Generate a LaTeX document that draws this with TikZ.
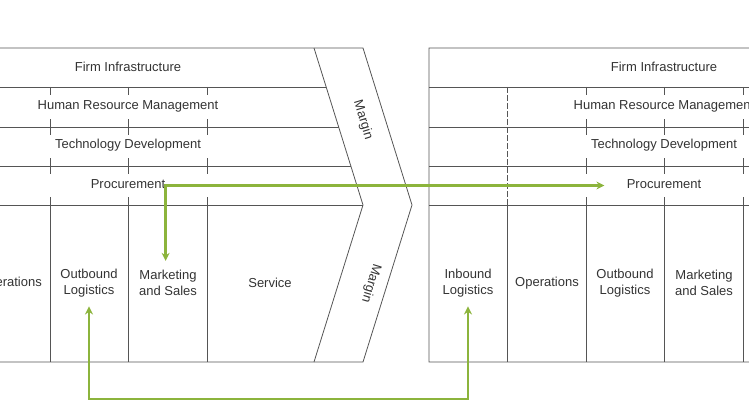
\documentclass[tikz,border=0pt]{standalone}
\usepackage{fontspec}
\setmainfont{Liberation Sans}
\usetikzlibrary{calc,arrows.meta}
\definecolor{vcgreen}{RGB}{140,180,60}
\definecolor{vcline}{RGB}{85,85,85}

\begin{document}
\begin{tikzpicture}[x=1pt, y=-1pt, line width=0.8pt,
  lbl/.style={font=\fontsize{13}{16}\selectfont, text=black!80, inner sep=0pt},
  act/.style={lbl, align=center, inner sep=9pt},
  link/.style={draw=vcgreen, line width=2.4pt,
    {Stealth[length=8pt,width=8pt]}-{Stealth[length=8pt,width=8pt]}}]
  \useasboundingbox (0,0) rectangle (749,417);
  \clip (0,0) rectangle (749,417);

  % two value chains, the left one cut at the page edge
  \foreach \ox/\p in {-107/l, 429/r} {
    \begin{scope}[xshift=\ox pt, vcline]
      \draw (0,48) -- (470,48) -- (519,205) -- (470,362) -- (0,362) -- cycle;
      \draw (421,48) -- (470,205) -- (421,362);
      \foreach \y/\e in {87/433.2, 127/445.7, 166/457.8, 205/470}
        \draw (0,\y) -- (\e,\y);
      \foreach \k in {1,...,4}
        \draw (78.5*\k,205) -- (78.5*\k,362);
      \draw[dash pattern=on 6pt off 2pt] (78.5,87) -- (78.5,205);
      \foreach \k in {2,3,4}
        \foreach \t/\b in {87/127, 127/166, 166/205} {
          \draw (78.5*\k,\t) -- ++(0,8);
          \draw (78.5*\k,\b) -- ++(0,-8);
        }

      \node[lbl] (\p firm) at (235,67)  {Firm Infrastructure};
      \node[lbl] (\p hrm)  at (235,106) {Human Resource Management};
      \node[lbl] (\p tech) at (235,145) {Technology Development};
      \node[lbl] (\p proc) at (235,184) {Procurement};
    \end{scope}
  }

  % primary activities, left chain
  \node[act] (lops) at (10,283)  {Operations};
  \node[act] (lout) at (89,283)  {Outbound\\Logistics};
  \node[act] (lmkt) at (168,283) {Marketing\\and Sales};
  \node[act] (lsvc) at (270,283) {Service};
  \node[lbl, rotate=-73]  (lmarga) at (363,120) {Margin};
  \node[lbl, rotate=-107] (lmargb) at (371,283) {Margin};

  % primary activities, right chain
  \node[act] (rin)  at (468,283) {Inbound\\Logistics};
  \node[act] (rops) at (547,283) {Operations};
  \node[act] (rout) at (625,283) {Outbound\\Logistics};
  \node[act] (rmkt) at (704,283) {Marketing\\and Sales};

  % links between the chains
  \coordinate (low) at (0,399);
  \draw[link] ([xshift=-22pt,yshift=-1.5pt]rproc.west)
    -- ([yshift=-1.5pt]lproc.east) -- (lproc.east |- lmkt.north);
  \draw[link] (lout.south) |- (rin.south |- low) -- (rin.south);
\end{tikzpicture}
\end{document}
